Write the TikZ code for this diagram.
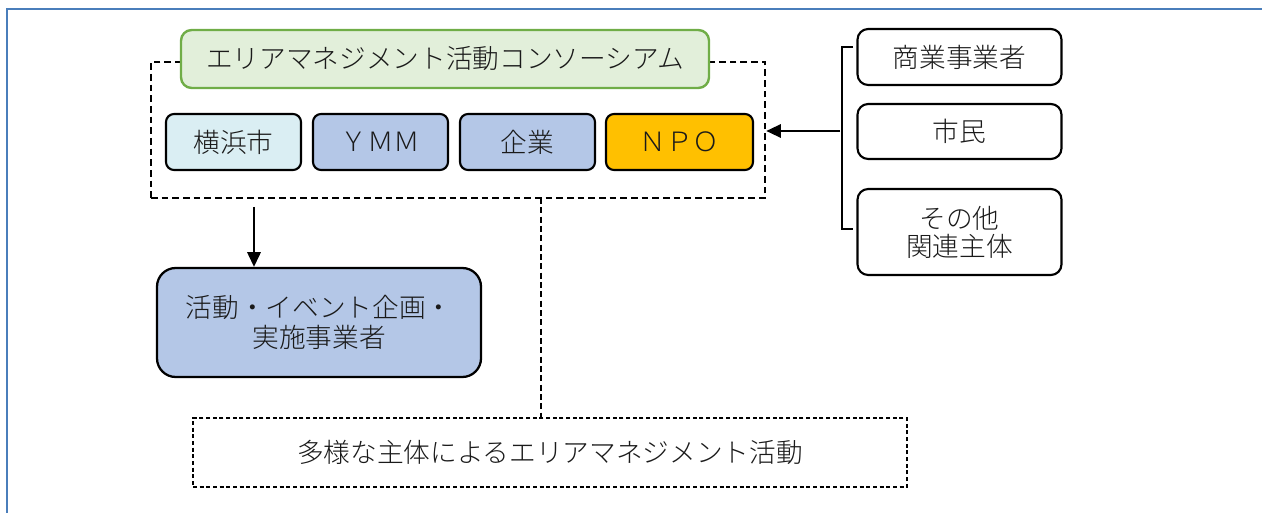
\documentclass[tikz,border=0pt]{standalone}
\usepackage{fontspec}
\setmainfont{Noto Sans CJK JP}[UprightFont=* Light]
\usetikzlibrary{arrows.meta}
\definecolor{frameblue}{HTML}{4A7EBB}
\definecolor{lightblue}{HTML}{DAEEF3}
\definecolor{midblue}{HTML}{B4C7E7}
\definecolor{npo}{HTML}{FFC000}
\definecolor{greenfill}{HTML}{E2EFDA}
\definecolor{greenline}{HTML}{70AD47}
\definecolor{txt}{HTML}{1A1A1A}
\tikzset{
  jtext/.style={text=txt, font=\fontsize{20}{22}\selectfont, inner sep=0pt, align=center},
  member/.style={jtext, draw=black, line width=1.6pt, rounded corners=6pt, minimum height=42pt},
  outer/.style={jtext, draw=black, line width=1.6pt, rounded corners=8pt, minimum width=153pt},
  conn/.style={line width=1.6pt, -{Triangle[length=11pt,width=10pt]}},
}
\begin{document}
\begin{tikzpicture}[x=0.75pt,y=-0.75pt]
\useasboundingbox (0,0) rectangle (1262,513);
% frame
\coordinate (fTL) at (7,9);
\coordinate (fBL) at (7,513);
\coordinate (fTR) at (1262,9);
\draw[frameblue, line width=2.2pt] (fBL) -- (fTL) -- (fTR);
% consortium dashed box
\node[draw=black, line width=1.9pt, dash pattern=on 5pt off 3pt, minimum width=460.5pt, minimum height=102pt, inner sep=0pt] (cons) at (458,130) {};
% title
\node[jtext, draw=greenline, fill=greenfill, line width=1.8pt, rounded corners=8pt, minimum width=396pt, minimum height=43.5pt] (title) at (445,59) {エリアマネジメント活動コンソーシアム};
% members
\node[member, fill=lightblue, minimum width=101.25pt] (yoko) at (233.5,142) {横浜市};
\node[member, fill=midblue, minimum width=101.25pt] (ymm) at (380.5,142) {ＹＭＭ};
\node[member, fill=midblue, minimum width=101.25pt] (kigyo) at (527.5,142) {企業};
\node[member, fill=npo, minimum width=110.25pt] (npo) at (679.5,142) {ＮＰＯ};
% outer actors
\node[outer, minimum height=42pt] (shogyo) at (959.5,57) {商業事業者};
\node[outer, minimum height=41.25pt] (shimin) at (959.5,131.5) {市民};
\node[outer, minimum height=64.5pt, font=\fontsize{20}{21}\selectfont] (sonota) at (959.5,232) {その他\\関連主体};
% bracket
\coordinate (bT) at (853,47);
\coordinate (bTc) at (842,47);
\coordinate (bB) at (853,229);
\coordinate (bBc) at (842,229);
\coordinate (bM) at (840,131);
\draw[black, line width=1.1pt] (bT) -- (bTc) -- (bBc) -- (bB);
\draw[conn] (bM) -- (bM -| cons.east);
% activity box
\node[jtext, draw=black, fill=midblue, line width=1.7pt, rounded corners=14pt, minimum width=243pt, minimum height=81.75pt, font=\fontsize{20}{22.5}\selectfont] (act) at (319,322.5) {活動・イベント企画・\\実施事業者};
\coordinate (aS) at (254,207);
\draw[conn] (aS) -- (aS |- act.north);
% bottom dashed box
\node[jtext, draw=black, line width=1pt, dash pattern=on 3pt off 2pt, minimum width=535.5pt, minimum height=51.75pt] (multi) at (550,452.5) {多様な主体によるエリアマネジメント活動};
\coordinate (dS) at (541,198);
\draw[black, line width=1.4pt, dash pattern=on 4.5pt off 2.5pt] (dS) -- (dS |- multi.north);
\end{tikzpicture}
\end{document}
